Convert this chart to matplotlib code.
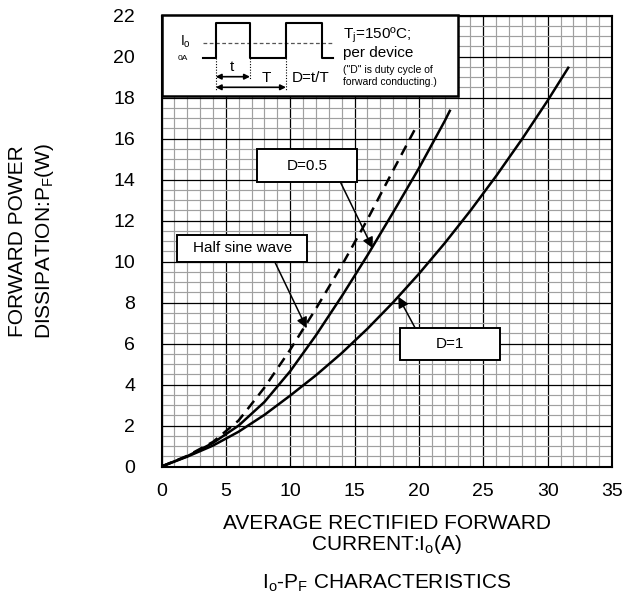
import matplotlib
matplotlib.use('Agg')
import matplotlib.pyplot as plt
from matplotlib.patches import Rectangle
from matplotlib.ticker import MultipleLocator

plt.rcParams['font.family'] = ['Liberation Sans', 'DejaVu Sans']
plt.rcParams['mathtext.fontset'] = 'custom'
plt.rcParams['mathtext.rm'] = 'Liberation Sans'

# кривые: ток Io (A) и мощность PF (W)
io_d1 = [0, 2, 4, 6, 8, 10, 12, 14, 16, 18, 20, 22, 24, 26, 28, 30, 31.6]
pf_d1 = [0, 0.48, 1.02, 1.7, 2.52, 3.46, 4.45, 5.53, 6.72, 8.01, 9.4, 10.89, 12.48, 14.17, 15.96, 17.85, 19.45]

io_d05 = [0, 2, 4, 6, 8, 10, 12, 14, 16, 18, 20, 22, 22.4]
pf_d05 = [0, 0.5, 1.15, 2.0, 3.15, 4.65, 6.4, 8.3, 10.3, 12.4, 14.55, 16.85, 17.35]

io_sine = [0, 2, 4, 6, 8, 10, 12, 14, 16, 18, 19.9]
pf_sine = [0, 0.52, 1.2, 2.25, 3.85, 5.7, 7.7, 9.8, 12.05, 14.45, 16.7]

x_ticks = [0, 5, 10, 15, 20, 25, 30, 35]
y_ticks = [0, 2, 4, 6, 8, 10, 12, 14, 16, 18, 20, 22]

W, H = 624, 600
fig = plt.figure(figsize=(W / 100, H / 100), dpi=100)

# основная область графика (в пикселях: лево 161.5, право 612, верх 15.5, низ 466.5)
ax = fig.add_axes([161.5 / W, 1 - 466.5 / H, (612 - 161.5) / W, (466.5 - 15.5) / H])
ax.set_xlim(0, 35)
ax.set_ylim(0, 22)
ax.set_xticks(x_ticks)
ax.set_yticks(y_ticks)
ax.xaxis.set_minor_locator(MultipleLocator(1))
ax.yaxis.set_minor_locator(MultipleLocator(0.5))
ax.grid(which='minor', color='#a0a0a0', lw=0.85)
ax.grid(which='major', color='black', lw=0.9)
ax.set_axisbelow(True)
ax.tick_params(which='both', length=0, labelsize=14, colors='black')
ax.tick_params(axis='y', pad=19)
ax.tick_params(axis='x', pad=12)
for s in ax.spines.values():
    s.set_linewidth(1.5)

ax.plot(io_d1, pf_d1, color='black', lw=1.8)
ax.plot(io_d05, pf_d05, color='black', lw=1.8)
ax.plot(io_sine, pf_sine, color='black', lw=1.8, dashes=(4.2, 2.8))

# подписи осей и заголовок
fig.text(386.7 / W, 1 - 535 / H, 'AVERAGE RECTIFIED FORWARD\nCURRENT:I$_\\mathregular{o}$(A)',
         ha='center', va='center', fontsize=15, linespacing=0.95)
fig.text(32 / W, 1 - 241 / H, 'FORWARD POWER\nDISSIPATION:P$_\\mathregular{F}$(W)',
         ha='center', va='center', rotation=90, fontsize=15, linespacing=1.3)
fig.text(386.7 / W, 1 - 583 / H, 'I$_\\mathregular{o}$-P$_\\mathregular{F}$ CHARACTERISTICS',
         ha='center', va='center', fontsize=15)

# слой для выносок, координаты в пикселях
ov = fig.add_axes([0, 0, 1, 1], zorder=5)
ov.set_xlim(0, W)
ov.set_ylim(H, 0)
ov.axis('off')
ov.patch.set_alpha(0)

arrow = dict(arrowstyle='-|>', color='black', lw=1.1, mutation_scale=16, shrinkA=0, shrinkB=0)

def label_box(x0, y0, x1, y1, text, size=11):
    ov.add_patch(Rectangle((x0, y0), x1 - x0, y1 - y0, facecolor='white', edgecolor='black', lw=1.4))
    ov.text((x0 + x1) / 2, (y0 + y1) / 2, text, ha='center', va='center', fontsize=size)

label_box(257.3, 149.3, 356.7, 181.7, 'D=0.5')
ov.annotate('', xy=(372.7, 248.3), xytext=(340.7, 182.7), arrowprops=arrow)
label_box(177.3, 235, 307.3, 261.7, 'Half sine wave')
ov.annotate('', xy=(306.7, 328.3), xytext=(275, 262.3), arrowprops=arrow)
label_box(400, 328.3, 500, 360, 'D=1')
ov.annotate('', xy=(398.3, 296.7), xytext=(415, 327.7), arrowprops=arrow)

# врезка с формой тока
ov.add_patch(Rectangle((161.7, 15), 296.6, 81, facecolor='white', edgecolor='black', lw=1.8))
ov.plot([203, 332.7], [43.3, 43.3], color='#555555', lw=0.9, ls=(0, (3, 2)))
ov.plot([203, 215.7, 215.7, 250, 250, 286, 286, 321.7, 321.7, 332.7],
        [58.3, 58.3, 22.7, 22.7, 58.3, 58.3, 22.7, 22.7, 58.3, 58.3], color='black', lw=1.5)
for xv, yb in [(215.7, 90), (250, 80), (286, 90)]:
    ov.plot([xv, xv], [58.3, yb], color='black', lw=0.8, ls=(0, (1, 1.5)))
darrow = dict(arrowstyle='<|-|>', color='black', lw=1.2, mutation_scale=8, shrinkA=0, shrinkB=0)
ov.annotate('', xy=(250, 76.7), xytext=(215.7, 76.7), arrowprops=darrow)
ov.annotate('', xy=(286, 87.3), xytext=(215.7, 87.3), arrowprops=darrow)
ov.text(231.7, 67, 't', ha='center', va='center', fontsize=11)
ov.text(266.7, 78.5, 'T', ha='center', va='center', fontsize=11)
ov.text(292, 78.5, 'D=t/T', ha='left', va='center', fontsize=11)
ov.text(185, 41.5, 'I$_\\mathregular{o}$', ha='center', va='center', fontsize=10)
ov.text(183, 58, '0A', ha='center', va='center', fontsize=6)
ov.text(342.7, 35, 'T$_\\mathregular{j}$=150ºC;', ha='left', va='center', fontsize=11)
ov.text(342.7, 52.7, 'per device', ha='left', va='center', fontsize=11)
ov.text(343, 70, '("D" is duty cycle of', ha='left', va='center', fontsize=7.5)
ov.text(343, 81.7, 'forward conducting.)', ha='left', va='center', fontsize=7.5)

fig.savefig('out.png', dpi=100)
